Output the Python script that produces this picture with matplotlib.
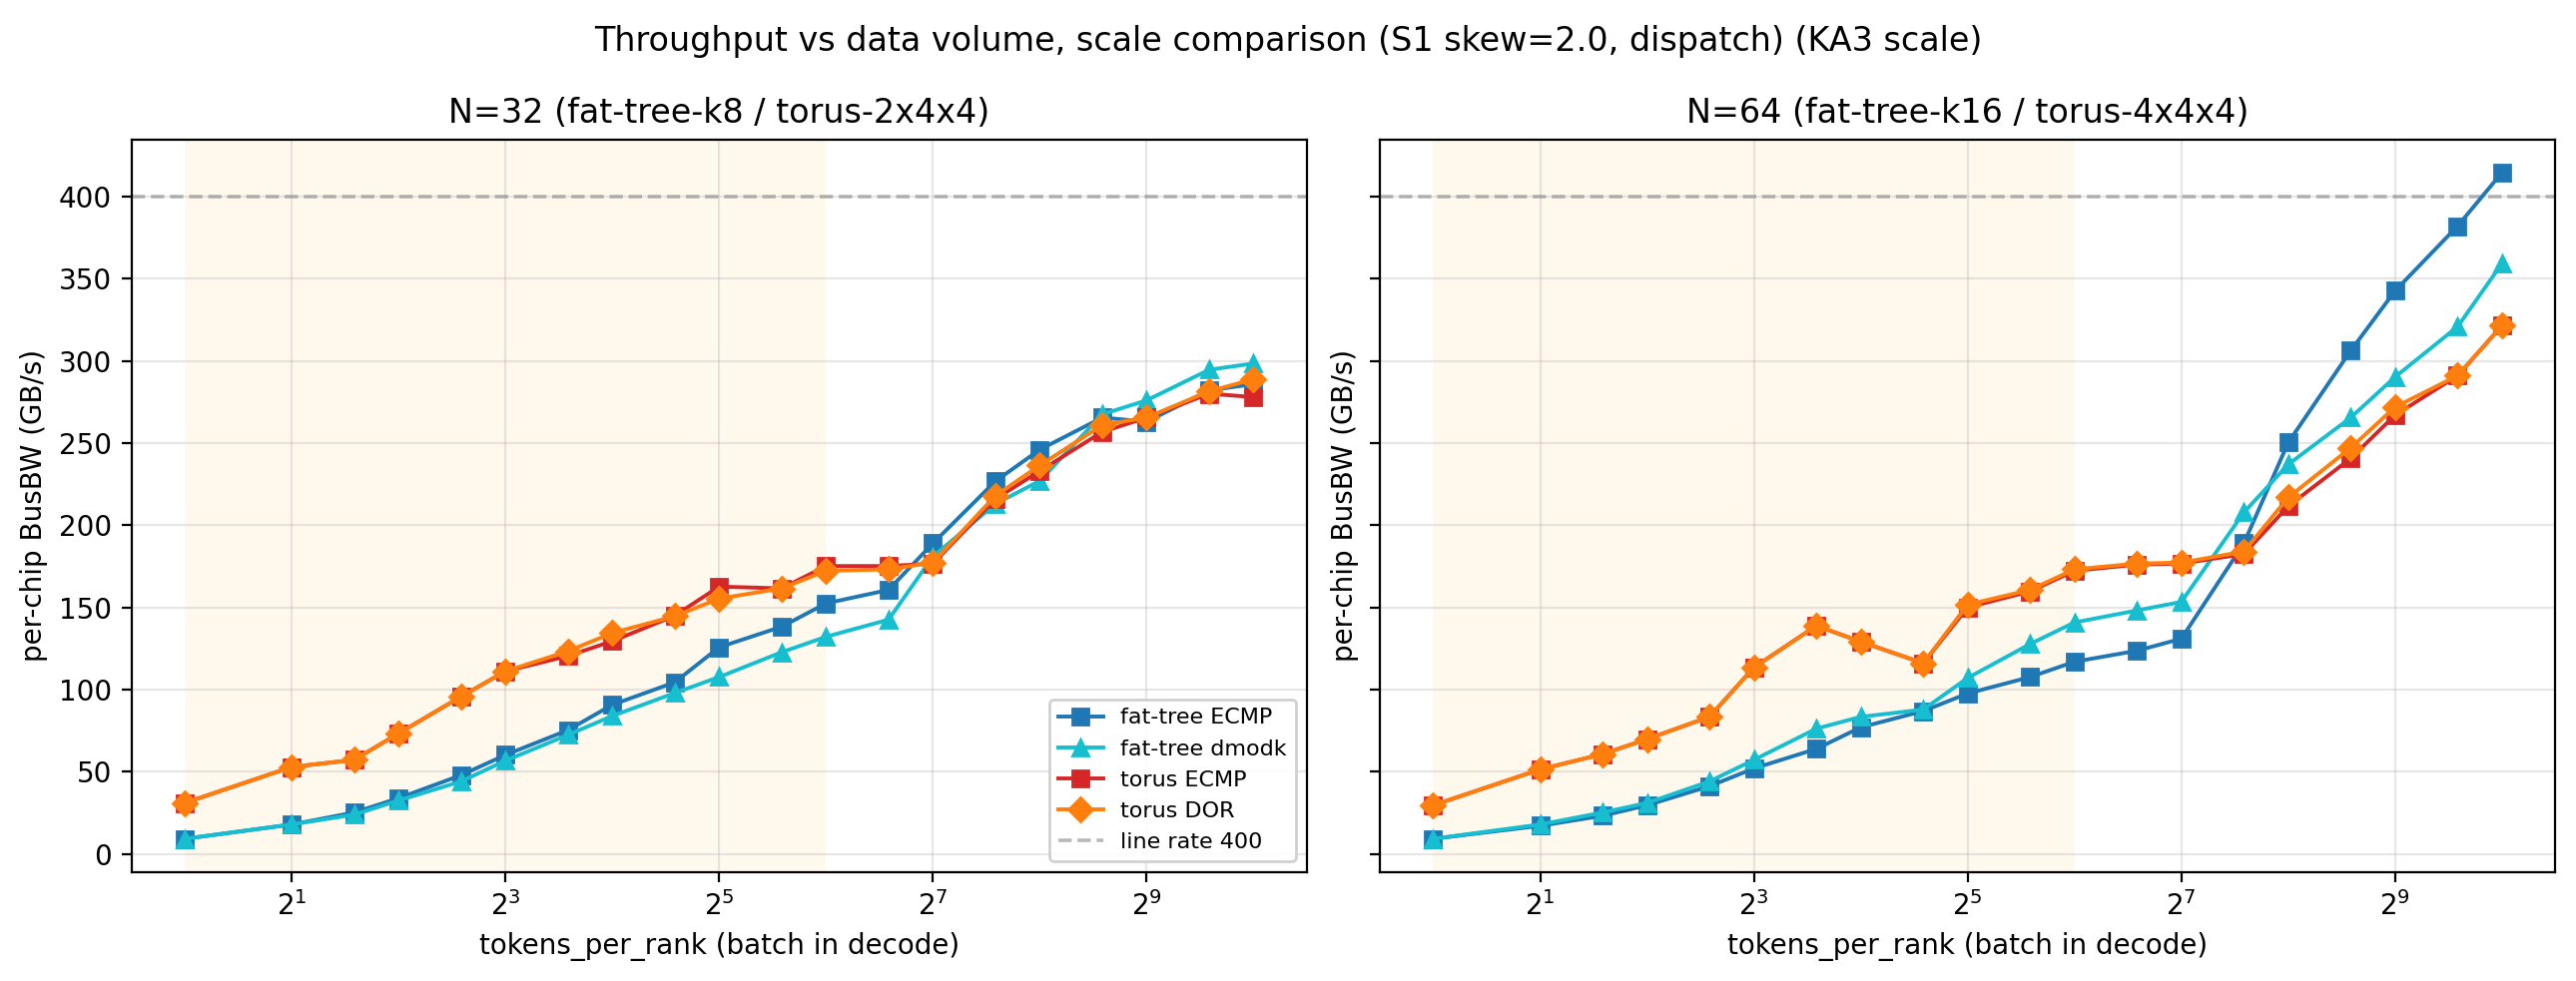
import matplotlib
matplotlib.use("Agg")
import matplotlib.pyplot as plt
from matplotlib.ticker import NullLocator, FixedLocator

tokens = [1, 2, 3, 4, 6, 8, 12, 16, 24, 32, 48, 64, 96, 128, 192, 256, 384, 512, 768, 1024]

# N=32
n32_ft_ecmp = [9.3, 18, 25.3, 34, 48, 60.3, 75.4, 90.8, 104.5, 125.8, 138.3, 152.5, 160.7, 189, 226.8, 246, 265.5, 263, 282, 285.9]
n32_ft_dmodk = [9.3, 18, 24, 32.6, 44.2, 56.8, 72.5, 84, 98, 107.7, 122.8, 132.2, 142.6, 181, 213, 227, 267.5, 276, 294.6, 298.4]
n32_tor_ecmp = [31.1, 53, 57.3, 73.4, 95.8, 111.2, 120.5, 129.5, 145, 162.7, 161.6, 175.2, 175.2, 176.7, 216, 233, 256.8, 265.5, 280, 278]
n32_tor_dor = [31.1, 53, 57.3, 73.4, 95.8, 111.2, 123.4, 134.5, 144.7, 155.4, 161.6, 172.3, 173.2, 177.3, 218, 236.4, 261, 265.5, 281.5, 288.8]

# N=64
n64_ft_ecmp = [9.3, 17.2, 23.3, 29.7, 41.3, 52.1, 64, 77.1, 87, 97.7, 107.7, 117, 123.7, 131, 189, 250.3, 306.2, 342.6, 382, 414.5]
n64_ft_dmodk = [9.3, 18, 25.3, 31.1, 44.2, 57.3, 76.3, 83.5, 87.9, 107.1, 127.8, 140.9, 148.2, 153.4, 207.8, 237, 265.5, 290.2, 320.8, 359.2]
n64_tor_ecmp = [29.7, 51.5, 60.8, 69.9, 83.5, 113.5, 138.9, 129.2, 116.1, 150, 159.8, 172.3, 176.1, 176.7, 182.5, 211.6, 240.7, 267, 291, 321.4]
n64_tor_dor = [29.7, 51.5, 60.8, 69.9, 83.5, 113.5, 138.9, 129.2, 116.1, 151.7, 160.7, 173.2, 176.7, 177.3, 184, 216.9, 247.1, 271.9, 291, 321.4]

line_rate = 400
shade_range = (1, 64)
titles = ["N=32 (fat-tree-k8 / torus-2x4x4)", "N=64 (fat-tree-k16 / torus-4x4x4)"]
suptitle = "Throughput vs data volume, scale comparison (S1 skew=2.0, dispatch) (KA3 scale)"
xticks = [2, 8, 32, 128, 512]

panels = [
    (n32_ft_ecmp, n32_ft_dmodk, n32_tor_ecmp, n32_tor_dor),
    (n64_ft_ecmp, n64_ft_dmodk, n64_tor_ecmp, n64_tor_dor),
]
labels = ["fat-tree ECMP", "fat-tree dmodk", "torus ECMP", "torus DOR"]
colors = ["#1f77b4", "#17becf", "#d62728", "#ff7f0e"]
markers = ["s", "^", "s", "D"]

fig, axes = plt.subplots(1, 2, figsize=(12.9, 4.915), dpi=200, sharey=True)
fig.subplots_adjust(left=0.051, right=0.992, bottom=0.111, top=0.858, wspace=0.062)

for ax, series, title in zip(axes, panels, titles):
    ax.axvspan(shade_range[0], shade_range[1], color="#ffa500", alpha=0.07, lw=0, zorder=0)
    for ys, lab, c, m in zip(series, labels, colors, markers):
        ax.plot(tokens, ys, marker=m, color=c, label=lab, lw=1.4, ms=6, zorder=3)
    ax.axhline(line_rate, color="gray", ls="--", lw=1.3, alpha=0.55, label="line rate 400", zorder=2)
    ax.set_xscale("log", base=2)
    ax.xaxis.set_major_locator(FixedLocator(xticks))
    ax.xaxis.set_minor_locator(NullLocator())
    ax.grid(True, alpha=0.3)
    ax.set_axisbelow(True)
    ax.set_title(title, fontsize=12)
    ax.set_xlabel("tokens_per_rank (batch in decode)", fontsize=10)
    ax.set_ylabel("per-chip BusBW (GB/s)", fontsize=10)
    ax.tick_params(labelsize=10)

axes[0].legend(loc="lower right", fontsize=8, framealpha=0.9)
fig.suptitle(suptitle, fontsize=12, y=0.975)
fig.savefig("out.png", dpi=200)
